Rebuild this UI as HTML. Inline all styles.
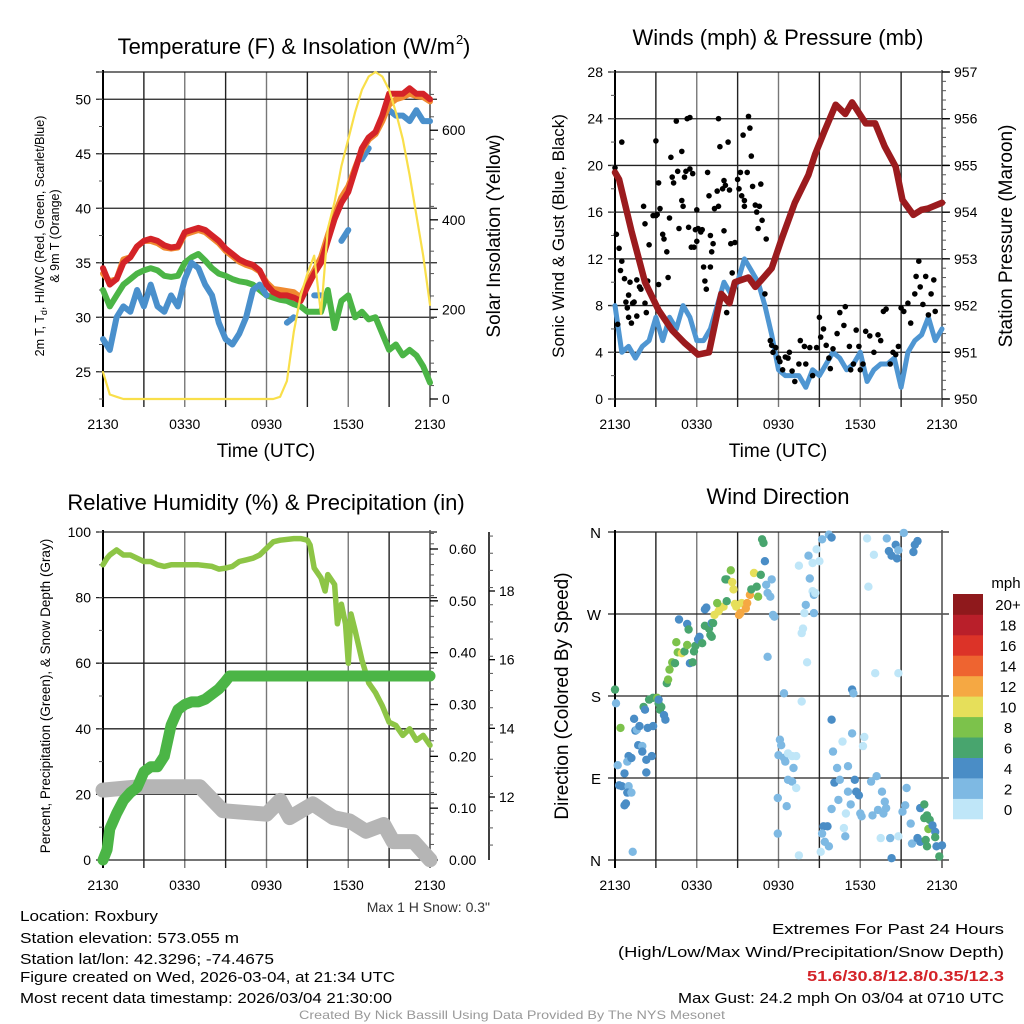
<!DOCTYPE html>
<html><head><meta charset="utf-8"><style>
html,body{margin:0;padding:0;background:#fff;}
svg{display:block;font-family:"Liberation Sans",Arial,sans-serif;}
</style></head><body>
<svg id="s" width="1024" height="1024" viewBox="0 0 1024 1024" xmlns="http://www.w3.org/2000/svg"></svg>
<script>
// ---------- DATA ----------
const halfHours = [];
for (let i = 0; i <= 48; i++) halfHours.push(i / 2);
const tempRed = [34.5,33,33.5,35,35.5,36.5,37,37.2,37,36.6,36.4,36.5,37.8,38,38.2,38,37.5,37,36.3,35.8,35.3,35,34.8,34.3,33,32.3,32,32,31.8,31.5,32.8,34,35,37,39,40.5,41.5,43.5,45.5,46.5,47,48.5,50.5,50.5,50.5,51,50.5,50.5,50];
const tempOrange = [34,33.3,33.5,35.3,35.5,36.5,37,37,36.8,36.4,36.3,36.4,37.6,37.8,38,37.8,37.3,36.8,36.1,35.6,35.1,34.8,34.6,34.2,33.2,32.6,32.5,32.4,32.3,31.8,33.2,34.3,35.5,37.5,39.4,41,42,43.7,45.3,46.3,46.8,48,49.5,50,50.2,50.5,50.3,50.2,49.8];
const dewGreen = [32.5,31,32,33,33.5,34,34.3,34.5,34.3,33.8,33.7,33.8,35,35.5,35.8,35.2,34.5,34,33.8,33.5,33.3,33.2,33,32.5,32,31.8,31.6,31.5,31.2,31,30.5,30.5,30.5,32.5,29,31.5,32,30,30.5,29.8,30,28.5,27,27.5,26.5,27,26.5,25.5,24];
const chillBlue = [28,27,30,31,30.5,32.5,31,33,31,30.5,32,31,33.5,35,34.5,33,32,29.5,28,27.5,28.5,30,32.5,33,32,null,null,29.5,30,null,null,32,32,null,null,37,38,null,44.5,45.5,null,null,49,48.5,48.5,48,49,48,48];
const solar = [60,10,5,0,0,0,0,0,0,0,0,0,0,0,0,0,0,0,0,0,0,0,0,0,0,0,5,40,150,230,280,320,190,380,440,520,580,640,690,720,730,720,690,640,580,500,410,320,210];
const tempTicks = [25,30,35,40,45,50];
const solarTicks = [0,200,400,600];
const timeLabels = ["2130","0330","0930","1530","2130"];

const windHours = halfHours;
const windSonic = [8,4,4.5,3.5,4.5,5,7,5,7,6,8,7,5,5,6,8,10,9,10,12,11,10,8,5.5,2.5,2,2,2,1,2.5,2,3,4,3.5,2.5,3,4,1.5,2.5,3,3,3.5,1,4,5,5.5,7,5,6];
const gustHours = [0,0.1,0.2,0.3,0.4,0.5,0.5,0.7,0.8,0.9,1,1,1.1,1.2,1.3,1.4,1.6,1.6,1.8,1.9,2.1,2.2,2.2,2.3,2.4,2.5,2.8,3,3,3.1,3.2,3.3,3.2,3.5,3.6,3.8,3.9,4,4.1,4.2,4.3,4.5,4.6,4.7,4.9,4.9,5,5.1,5.2,5.3,5.4,5.5,5.5,5.6,5.7,5.8,5.9,6,6,6.1,6.3,6.4,6.5,6.6,6.7,6.8,6.9,7,7,7.1,7.2,7.3,7.5,7.6,7.6,7.7,7.9,8,8,8.1,8.2,8.3,8.4,8.5,8.6,8.8,9,9.1,9.2,9.3,9.4,9.5,9.5,9.7,9.8,9.9,10,10.1,10.3,10.4,10.5,10.6,10.7,10.8,11,11.1,11.4,11.5,11.6,11.8,12,12.1,12.3,12.5,12.7,12.8,13,13.2,13.5,13.6,13.9,14,14.3,14.5,14.8,15,15.1,15.3,15.5,15.7,15.8,16,16.3,16.5,16.8,16.9,17.2,17.3,17.5,17.7,17.9,18,18.2,18.4,18.7,19,19.3,19.5,19.7,19.9,20.2,20.4,20.6,20.8,21,21.2,21.5,21.7,22,22.1,22.3,22.4,22.6,22.8,23,23.2,23.4,23.5];
const gustVals = [19.8,14.1,6.4,12.9,11,22,11.8,10.3,8.3,7.8,8.9,7,10,6.5,8.2,8.3,10.2,7.1,9.6,9.4,16.5,15,8.2,7.4,10.1,13.2,15.7,15.7,22.1,15.8,18.5,16.3,9.8,14.1,13.7,12.6,10.4,15.5,20.7,19,18.5,23.8,19.5,14.6,21.2,17,16.5,19,19.5,24,14.7,24.1,19.7,13,19.3,13,14.5,16.2,13.5,14.6,14.3,14.5,11.3,10.1,9.4,19.4,17.4,11.3,14,12.6,13.3,16.3,17.8,24,16.5,21.6,18,14.4,18.7,18.3,7.4,22,17.9,13.3,10.8,13.4,18.8,18,19.4,17.4,22.6,17,16.5,19.4,24.2,23.2,20.8,18.2,16.6,16,14.6,16.5,18.4,15.3,9,13.7,5,4.6,4,4.4,3.5,3.2,2.5,3.6,3.5,4,2.4,1.5,3,5,4.5,3,4.4,2,4.4,7,5.3,6,4.6,3.5,2.6,4.3,5.6,7.4,6.3,7.9,4.5,2.5,3,5.9,4.5,2.5,3,5.8,5.4,4,5.5,5,7.5,7.7,3,4,3.8,4.5,7.8,7.5,8.2,6.5,9,10.5,11.8,9.6,8.1,10.5,7.2,9,10.2,7.5];
const pressHours = [0,0.3,1.2,2.2,3.2,4.2,5.1,6.1,6.9,7.8,8.4,8.8,9.8,10.3,11.5,12.2,13.2,14.2,14.7,15.4,16.2,16.9,17.4,18.4,19.1,19.8,20.6,21.1,21.9,22.5,23,24];
const pressVals = [954.85,954.7,953.6,952.5,951.9,951.47,951.2,950.95,951,952.25,952.05,952.5,952.6,952.4,952.8,953.4,954.2,954.8,955.25,955.75,956.3,956.1,956.35,955.9,955.9,955.4,954.97,954.26,953.94,954.05,954.08,954.2];
const windTicks = [0,4,8,12,16,20,24,28];
const pressTicks = [950,951,952,953,954,955,956,957];

const rhHours = [0,0.3,0.5,1,1.5,2,2.5,3,3.5,4,4.5,5,6,7,8,8.5,9,9.5,10,10.5,11,11.5,12,12.5,13,14,14.5,15,15.2,15.5,16,16.3,16.5,17,17.2,17.5,17.8,18,18.2,18.5,19,19.5,20,20.5,21,21.5,22,22.5,23,23.5,24];
const rhVals = [90,92,93,94.5,93,93,92,91,91,90,89.5,90,90,90,89.5,88.7,89,89.5,91,91.5,92,93,95,97,97.5,98,98,97.5,96,89,86,82,87,84,72,78,72,60,75,70,61,54,51,47,42,41,38,40,36.5,38,35];
const precipHours = [0,0.3,0.5,1,1.5,2,2.5,3,3.5,4,4.5,5,5.5,6,6.5,7,7.5,8,8.5,9,9.3,24];
const precipVals = [0,0.02,0.06,0.09,0.115,0.13,0.14,0.17,0.18,0.18,0.2,0.26,0.29,0.3,0.305,0.305,0.31,0.32,0.33,0.345,0.355,0.355];
const snowHours = [0,2.7,7.1,8.8,12,13,13.7,15.4,16.9,18.1,19.3,20.6,21.3,22.8,24];
const snowVals = [12.2,12.3,12.3,11.6,11.5,11.9,11.4,11.8,11.4,11.3,11.0,11.2,10.7,10.7,10.17];
const rhTicks = [0,20,40,60,80,100];
const precipTicks = [0,0.1,0.2,0.3,0.4,0.5,0.6];
const precipTickLabels = ["0.00","0.10","0.20","0.30","0.40","0.50","0.60"];
const snowTicks = [12,14,16,18];

const dirHours = [0,0.07,0.4,0.2,0.7,0.3,0.5,1.0,0.9,1.2,0.7,0.8,1.3,1.0,0.9,1.2,1.7,2.0,2.0,2.3,2.7,2.3,1.5,1.6,1.8,1.4,2.4,2.8,2.1,2.2,2.5,2.8,3.1,3.2,3.3,3.4,3.6,3.7,3.2,3.8,3.9,4.0,4.2,4.4,4.5,4.6,4.9,5.1,5.3,4.7,5.3,5.4,5.5,5.7,5.8,5.9,6.1,6.2,6.4,6.6,6.6,6.7,6.9,7.0,7.1,7.1,7.2,7.3,7.6,7.7,7.96,7.5,8.1,8.2,8.5,8.6,8.7,8.2,8.8,8.9,9.1,9.2,9.3,9.6,9.7,9.9,10.0,10.2,10.4,10.5,10.7,10.8,10.9,11.0,11.1,11.2,11.4,11.5,11.6,11.7,11.2,12.4,11.95,11.95,12.1,12.2,12.0,12.4,12.5,12.7,13.0,13.3,13.1,12.7,13.0,13.3,12.6,13.5,13.5,13.7,13.7,13.8,13.9,14.1,14.0,14.2,14.3,14.5,14.5,14.6,14.7,14.6,14.8,15.0,15.2,15.7,15.9,15.3,15.6,15.2,15.4,15.7,15.1,15.9,16.0,16.1,16.3,16.5,16.7,16.4,15.9,16.8,16.9,16.95,17.1,17.1,17.3,17.4,17.4,17.5,17.6,17.7,17.9,18.0,18.2,18.3,18.1,18.5,18.6,18.8,18.9,19.0,19.1,19.2,19.3,19.5,19.6,19.7,19.8,19.9,19.95,20.1,20.3,20.6,20.7,20.8,20.2,20.3,20.8,20.8,21.2,21.1,21.4,21.3,21.7,21.8,21.9,22.0,22.2,22.2,22.4,22.4,22.7,22.7,22.9,23.0,23.1,23.3,23.5,22.8,22.9,23.5,23.6,23.8,24.0];
const dirDeg = [187,172,145,104,95,82,81,81,74,74,60,62,9,114,108,112,126,125,119,110,114,96,142,143,147,155,145,147,168,165,176,178,178,172,165,168,159,154,176,194,198,209,217,216,239,228,227,229,236,264,259,253,216,217,229,235,242,245,238,257,275,277,254,247,245,260,260,269,273,276,278,282,308,308,318,305,297,284,281,278,269,271,282,276,282,291,297,315,300,289,313,352,348,328,302,293,289,308,269,267,223,183,68,29,132,126,115,112,108,117,114,114,101,88,86,79,59,5,323,174,249,254,271,217,280,334,309,326,295,291,293,271,341,328,352,357,354,37,37,29,20,15,9,154,119,85,101,88,130,66,56,35,26,51,75,103,61,139,187,183,88,75,71,51,125,135,48,353,300,86,49,335,205,92,55,24,75,51,64,57,353,339,334,346,331,340,24,2,205,26,359,53,79,60,40,18,338,346,350,24,20,57,61,46,49,34,44,38,31,22,15,25,15,4,16];
const dirSpeed = [7,3,9,3,5,5,5,3,5,3,5,5,3,5,3,5,5,3,5,5,5,5,5,3,5,5,5,5,7,5,7,7,9,7,7,7,5,5,5,7,9,9,9,7,9,9,11,7,9,5,5,7,5,7,7,7,5,5,7,7,5,5,7,7,7,5,7,11,11,11,11,9,7,7,9,11,11,7,11,11,13,13,11,13,13,13,7,11,7,9,7,7,7,5,3,3,3,3,3,3,3,3,3,3,3,3,3,3,3,1,1,1,3,3,3,1,3,1,1,1,1,1,1,1,3,3,3,1,1,3,1,3,1,1,3,3,5,5,5,3,3,3,1,5,3,5,3,3,1,3,3,1,3,1,3,3,3,3,5,3,5,5,5,3,1,1,3,1,1,3,3,1,1,3,3,1,3,3,3,3,3,5,5,5,5,3,3,5,1,1,3,3,3,3,3,3,5,5,5,5,5,5,7,7,7,9,7,5,5,7,7,7,5,7,5];
const dirLabels = ["N","E","S","W","N"];
const speedBins = ["0","2","4","6","8","10","12","14","16","18","20+"];
const speedColors = ["#bfe6f8","#7eb9e3","#4a8dc6","#48a56e","#7cc24b","#e6df5a","#f5a843","#ee6430","#dc3328","#b91f2a","#8f191c"];

// ---------- HELPERS ----------
const S = document.getElementById('s');
const NS = 'http://www.w3.org/2000/svg';
function el(tag, attrs, name, parent) {
  const e = document.createElementNS(NS, tag);
  for (const k in attrs) e.setAttribute(k, attrs[k]);
  
  
  (parent || S).appendChild(e);
  return e;
}
function txt(x, y, s, size, name, extra) {
  const a = Object.assign({x: x, y: y, 'font-size': size, fill: '#000'}, extra || {});
  const t = el('text', a, name);
  t.textContent = s;
  return t;
}
function lin(lo, hi, p0, p1) { return v => p0 + (v - lo) / (hi - lo) * (p1 - p0); }
function pathFrom(xs, ys, fx, fy) {
  let d = '', pen = false;
  for (let i = 0; i < xs.length; i++) {
    if (ys[i] === null || ys[i] === undefined) { pen = false; continue; }
    d += (pen ? 'L' : 'M') + fx(xs[i]).toFixed(1) + ' ' + fy(ys[i]).toFixed(1);
    pen = true;
  }
  return d;
}
function frame(X0, X1, Y0, Y1, hLines, pfx) {
  const g = el('g', {}, pfx + '-grid');
  const fx = lin(0, 24, X0, X1);
  for (let h = 3; h < 24; h += 3) {
    el('line', {x1: fx(h), x2: fx(h), y1: Y0, y2: Y1 + 8, stroke: (h % 6 === 0) ? '#777' : '#222', 'stroke-width': 1.4}, pfx + '-vgrid', g);
  }
  hLines.forEach(y => {
    el('line', {x1: X0 - 7, x2: X1 + 7, y1: y, y2: y, stroke: '#222', 'stroke-width': 1.3}, pfx + '-hgrid', g);
  });
  el('line', {x1: X0, x2: X0, y1: Y0 - 2, y2: Y1 + 8, stroke: '#000', 'stroke-width': 2}, pfx + '-left-axis', g);
  el('line', {x1: X1, x2: X1, y1: Y0 - 2, y2: Y1 + 8, stroke: '#555', 'stroke-width': 1.6}, pfx + '-right-axis', g);
  timeLabels.forEach((l, i) => {
    txt(fx(i * 6), Y1 + 30, l, 14, pfx + '-x-tick-label', {'text-anchor': 'middle'});
  });
  return fx;
}
function minorTicks(x, y0, y1, step, dir, pfx) {
  for (let y = y0; y <= y1 + 0.1; y += step) {
    el('line', {x1: x, x2: x + dir * 4, y1: y, y2: y, stroke: '#555', 'stroke-width': 1}, pfx + '-minor-tick');
  }
}

// ---------- PANEL 1: TEMPERATURE ----------
(function () {
  const X0 = 103, X1 = 430, Y0 = 72, Y1 = 399;
  const fy = lin(22.5, 52.5, Y1, Y0);
  const fs = lin(0, 730, Y1, Y0);
  txt(455, 54, 'Temperature (F) & Insolation (W/m', 22, 'temp-chart-title', {'text-anchor': 'end'});
  txt(456, 44, '2', 13, 'temp-title-superscript');
  txt(463, 54, ')', 22, 'temp-title-close');
  const fx = frame(X0, X1, Y0, Y1, tempTicks.map(fy).concat([Y0]), 'temp');
  minorTicks(X0 - 4, fy(52.5), Y1, (fy(22.5) - fy(25)), 1, 'temp-left');
  minorTicks(X1, fs(730), Y1, fs(0) - fs(50), 1, 'temp-right');
  tempTicks.forEach(t => txt(X0 - 12, fy(t) + 5, String(t), 14, 'temp-y-tick-label', {'text-anchor': 'end'}));
  solarTicks.forEach(t => {
    el('line', {x1: X1, x2: X1 + 8, y1: fs(t), y2: fs(t), stroke: '#000', 'stroke-width': 1.3}, 'solar-major-tick');
    txt(X1 + 12, fs(t) + 5, String(t), 14, 'solar-y-tick-label');
  });
  const lw = {fill: 'none', 'stroke-linejoin': 'round', 'stroke-linecap': 'round'};
  el('path', Object.assign({d: pathFrom(halfHours, dewGreen, fx, fy), stroke: '#4bb546', 'stroke-width': 6}, lw), 'dewpoint-line');
  el('path', Object.assign({d: pathFrom(halfHours, chillBlue, fx, fy), stroke: '#4a90cc', 'stroke-width': 6}, lw), 'wind-chill-line');
  el('path', Object.assign({d: pathFrom(halfHours, tempOrange, fx, fy), stroke: '#f08a30', 'stroke-width': 6}, lw), 'temp-9m-line');
  el('path', Object.assign({d: pathFrom(halfHours, tempRed, fx, fy), stroke: '#d42328', 'stroke-width': 6}, lw), 'temp-2m-line');
  el('path', Object.assign({d: pathFrom(halfHours, solar, fx, fs), stroke: '#f9df4a', 'stroke-width': 2.2}, lw), 'solar-line');
  txt(266, 457, 'Time (UTC)', 19, 'temp-x-axis-title', {'text-anchor': 'middle'});
  txt(0, 0, '', 12.5, 'temp-y-axis-title', {transform: 'translate(44,236) rotate(-90)', 'text-anchor': 'middle'}).innerHTML = '2m T, T<tspan font-size="9" dy="3">d</tspan><tspan dy="-3">, HI/WC (Red, Green, Scarlet/Blue)</tspan>';
  txt(0, 0, '& 9m T (Orange)', 12.5, 'temp-y-axis-title-line2', {transform: 'translate(59,236) rotate(-90)', 'text-anchor': 'middle'});
  txt(0, 0, 'Solar Insolation (Yellow)', 19, 'solar-y-axis-title', {transform: 'translate(500,236) rotate(-90)', 'text-anchor': 'middle'});
})();

// ---------- PANEL 2: WINDS ----------
(function () {
  const X0 = 615, X1 = 942, Y0 = 72, Y1 = 399;
  const fy = lin(0, 28, Y1, Y0);
  const fp = lin(950, 957, Y1, Y0);
  txt(778, 45, 'Winds (mph) & Pressure (mb)', 22, 'winds-chart-title', {'text-anchor': 'middle'});
  const fx = frame(X0, X1, Y0, Y1, windTicks.map(fy), 'winds');
  minorTicks(X0 - 4, Y0, Y1, fy(0) - fy(2), 1, 'winds-left');
  minorTicks(X1, Y0, Y1, fp(950) - fp(950.2), 1, 'winds-right');
  windTicks.forEach(t => txt(X0 - 12, fy(t) + 5, String(t), 14, 'wind-y-tick-label', {'text-anchor': 'end'}));
  pressTicks.forEach(t => {
    el('line', {x1: X1, x2: X1 + 8, y1: fp(t), y2: fp(t), stroke: '#000', 'stroke-width': 1.3}, 'pressure-major-tick');
    txt(X1 + 12, fp(t) + 5, String(t), 14, 'pressure-y-tick-label');
  });
  const lw = {fill: 'none', 'stroke-linejoin': 'round', 'stroke-linecap': 'round'};
  el('path', Object.assign({d: pathFrom(windHours, windSonic, fx, fy), stroke: '#4f96d2', 'stroke-width': 5}, lw), 'sonic-wind-line');
  const g = el('g', {fill: '#000'}, 'gust-points');
  gustHours.forEach((h, i) => {
    el('circle', {cx: fx(h).toFixed(1), cy: fy(gustVals[i]).toFixed(1), r: 2.8}, 'gust-point', g);
  });
  el('path', Object.assign({d: pathFrom(pressHours, pressVals, fx, fp), stroke: '#9b1b1e', 'stroke-width': 6.5}, lw), 'pressure-line');
  txt(778, 457, 'Time (UTC)', 19, 'winds-x-axis-title', {'text-anchor': 'middle'});
  txt(0, 0, 'Sonic Wind & Gust (Blue, Black)', 17, 'wind-y-axis-title', {transform: 'translate(564,236) rotate(-90)', 'text-anchor': 'middle'});
  txt(0, 0, 'Station Pressure (Maroon)', 19, 'pressure-y-axis-title', {transform: 'translate(1012,236) rotate(-90)', 'text-anchor': 'middle'});
})();

// ---------- PANEL 3: RH & PRECIP ----------
(function () {
  const X0 = 103, X1 = 430, Y0 = 532, Y1 = 860;
  const fy = lin(0, 100, Y1, Y0);
  const fpr = lin(0, 0.6, Y1, 549);
  const fsn = lin(12, 18, 797, 591);
  txt(266, 510, 'Relative Humidity (%) & Precipitation (in)', 22, 'rh-chart-title', {'text-anchor': 'middle'});
  const fx = frame(X0, X1, Y0, Y1, rhTicks.map(fy), 'rh');
  minorTicks(X0 - 4, Y0, Y1, fy(0) - fy(10), 1, 'rh-left');
  minorTicks(X1, fpr(0.63), Y1, fpr(0) - fpr(0.02), 1, 'precip-right');
  rhTicks.forEach(t => txt(X0 - 12, fy(t) + 5, String(t), 14, 'rh-y-tick-label', {'text-anchor': 'end'}));
  precipTicks.forEach((t, i) => {
    el('line', {x1: X1, x2: X1 + 8, y1: fpr(t), y2: fpr(t), stroke: '#000', 'stroke-width': 1.3}, 'precip-major-tick');
    txt(X1 + 19, fpr(t) + 5, precipTickLabels[i], 14, 'precip-y-tick-label');
  });
  el('line', {x1: 489, x2: 489, y1: Y0, y2: Y1, stroke: '#000', 'stroke-width': 1.5}, 'snow-axis-line');
  minorTicks(489, fsn(19.6), Y1, fsn(12) - fsn(12.5), 1, 'snow');
  snowTicks.forEach(t => {
    el('line', {x1: 489, x2: 495, y1: fsn(t), y2: fsn(t), stroke: '#000', 'stroke-width': 1.3}, 'snow-major-tick');
    txt(499, fsn(t) + 5, String(t), 14, 'snow-y-tick-label');
  });
  const lw = {fill: 'none', 'stroke-linejoin': 'round', 'stroke-linecap': 'round'};
  el('path', Object.assign({d: pathFrom(snowHours, snowVals, fx, fsn), stroke: '#b5b5b5', 'stroke-width': 15}, lw), 'snow-depth-line');
  el('path', Object.assign({d: pathFrom(rhHours, rhVals, fx, fy), stroke: '#8dc546', 'stroke-width': 5.5}, lw), 'rh-line');
  el('path', Object.assign({d: pathFrom(precipHours, precipVals, fx, fpr), stroke: '#4bb546', 'stroke-width': 11}, lw), 'precip-line');
  txt(0, 0, 'Percent, Precipitation (Green), & Snow Depth (Gray)', 13.5, 'rh-y-axis-title', {transform: 'translate(50,696) rotate(-90)', 'text-anchor': 'middle'});
  txt(490, 912, 'Max 1 H Snow: 0.3"', 14, 'max-snow-note', {'text-anchor': 'end', fill: '#333'});
})();

// ---------- PANEL 4: WIND DIRECTION ----------
(function () {
  const X0 = 615, X1 = 942, Y0 = 532, Y1 = 860;
  const fy = lin(0, 360, Y1, Y0);
  txt(778, 504, 'Wind Direction', 22, 'direction-chart-title', {'text-anchor': 'middle'});
  const fx = frame(X0, X1, Y0, Y1, [0, 90, 180, 270, 360].map(fy), 'dir');
  dirLabels.forEach((l, i) => txt(X0 - 14, fy(i * 90) + 6, l, 15, 'direction-tick-label', {'text-anchor': 'end'}));
  const g = el('g', {}, 'direction-points');
  dirHours.forEach((h, i) => {
    const b = Math.min(10, Math.floor(dirSpeed[i] / 2));
    el('circle', {cx: fx(h).toFixed(1), cy: fy(dirDeg[i]).toFixed(1), r: 4.2, fill: speedColors[b]}, 'direction-point', g);
  });
  txt(0, 0, 'Direction (Colored By Speed)', 19, 'direction-y-axis-title', {transform: 'translate(568,696) rotate(-90)', 'text-anchor': 'middle'});
  const cb = el('g', {}, 'speed-colorbar');
  const bh = 225 / 11;
  speedBins.forEach((l, i) => {
    const y = 819 - (i + 1) * bh;
    el('rect', {x: 953, y: y.toFixed(1), width: 30, height: (bh + 0.3).toFixed(1), fill: speedColors[i]}, 'colorbar-bin', cb);
    txt(1008, y + bh / 2 + 6, l, 15, 'colorbar-label', {'text-anchor': 'middle'});
  });
  txt(1006, 588, 'mph', 15, 'colorbar-title', {'text-anchor': 'middle'});
})();

// ---------- FOOTER TEXT ----------
const info = ['Location: Roxbury', 'Station elevation: 573.055 m', 'Station lat/lon: 42.3296; -74.4675', 'Figure created on Wed, 2026-03-04, at 21:34 UTC', 'Most recent data timestamp: 2026/03/04 21:30:00'];
const infoY = [921, 943, 964, 982, 1003];
const infoW = [138, 219, 254, 375, 372];
info.forEach((s, i) => txt(20, infoY[i], s, 15, 'station-info-line', {textLength: infoW[i], lengthAdjust: 'spacingAndGlyphs'}));
txt(1004, 934, 'Extremes For Past 24 Hours', 15, 'extremes-heading', {'text-anchor': 'end', textLength: 232, lengthAdjust: 'spacingAndGlyphs'});
txt(1004, 957, '(High/Low/Max Wind/Precipitation/Snow Depth)', 15, 'extremes-subheading', {'text-anchor': 'end', textLength: 386, lengthAdjust: 'spacingAndGlyphs'});
txt(1004, 981, '51.6/30.8/12.8/0.35/12.3', 15, 'extremes-values', {'text-anchor': 'end', fill: '#d42328', 'font-weight': 'bold', textLength: 197, lengthAdjust: 'spacingAndGlyphs'});
txt(1004, 1003, 'Max Gust: 24.2 mph On 03/04 at 0710 UTC', 15, 'max-gust-note', {'text-anchor': 'end', textLength: 326, lengthAdjust: 'spacingAndGlyphs'});
txt(512, 1019, 'Created By Nick Bassill Using Data Provided By The NYS Mesonet', 12, 'credit-footer', {'text-anchor': 'middle', fill: '#999', textLength: 426, lengthAdjust: 'spacingAndGlyphs'});
</script>
</body></html>
